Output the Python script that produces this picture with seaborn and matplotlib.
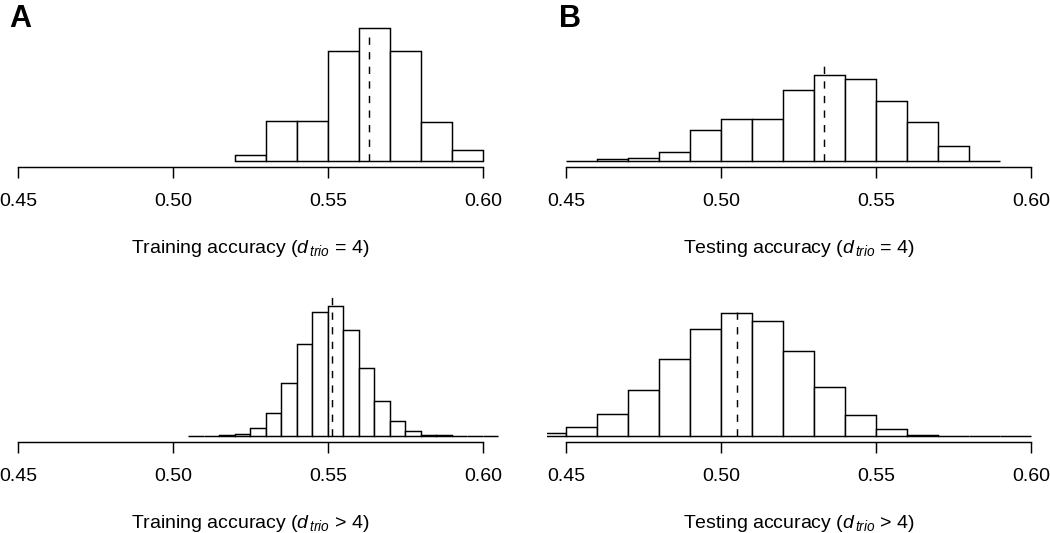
import numpy as np
import pandas as pd
import seaborn as sns
import matplotlib.pyplot as plt

# histogram bar heights (arbitrary frequency units)
train4_start, train4_width = 0.52, 0.01
train4_freq = [6, 40, 40, 110, 133, 110, 39, 11]
train4_mean, train4_mean_top = 0.5632, 131

test4_start, test4_width = 0.45, 0.01
test4_freq = [0.6, 2.3, 3.3, 9.7, 31, 42, 42, 71, 86, 82, 60, 39, 15, 0.7]
test4_mean, test4_mean_top = 0.5331, 98

traingt4_start, traingt4_width = 0.505, 0.005
traingt4_freq = [0, 0.3, 1, 2, 8, 23, 53, 92, 124, 130, 106, 68, 35, 15, 5,
                 1.3, 0.7, 0, 0, 0]
traingt4_mean, traingt4_mean_top = 0.5514, 142

testgt4_start, testgt4_width = 0.44, 0.01
testgt4_freq = [2.5, 9.2, 22.3, 46, 77, 107, 123, 115, 85, 49, 21, 7, 1.3,
                0.3, 0, 0]
testgt4_mean, testgt4_mean_top = 0.5053, 128

tick_vals = [0.45, 0.50, 0.55, 0.60]
tick_labels = ["0.45", "0.50", "0.55", "0.60"]

sns.set_style("white")
plt.rcParams['font.family'] = ['Liberation Sans', 'DejaVu Sans']
plt.rcParams['mathtext.fontset'] = 'custom'
plt.rcParams['mathtext.rm'] = 'Liberation Sans'
plt.rcParams['mathtext.it'] = 'Liberation Sans:italic'
plt.rcParams['text.color'] = 'black'
plt.rcParams['axes.labelcolor'] = 'black'
plt.rcParams['xtick.color'] = 'black'

fig = plt.figure(figsize=(10.5, 5.33), dpi=100)


def draw_panel(rect, start, width, freq, mean, mean_top, label, base):
    ax = fig.add_axes(rect)
    n = len(freq)
    centers = start + width * (np.arange(n) + 0.5)
    df = pd.DataFrame({"acc": centers, "freq": freq})
    sns.histplot(data=df, x="acc", weights="freq", binwidth=width,
                 binrange=(start, start + width * n), ax=ax,
                 color="white", edgecolor="black", linewidth=1.05, alpha=1)
    ax.vlines(mean, 0, mean_top, colors="black",
              linestyles=(0, (5, 5)), linewidth=1.05)
    ax.set_xlim(0.444, 0.606)
    ax.set_ylim(-base, 146 - base)
    for s in ["left", "right", "top"]:
        ax.spines[s].set_visible(False)
    ax.spines["bottom"].set_bounds(0.45, 0.60)
    ax.spines["bottom"].set_linewidth(1.05)
    ax.spines["bottom"].set_color("black")
    ax.set_yticks([])
    ax.set_ylabel("")
    ax.set_xticks(tick_vals)
    ax.set_xticklabels(tick_labels)
    ax.tick_params(axis="x", direction="out", length=8, width=1.05,
                   pad=11, labelsize=14, colors="black", bottom=True)
    ax.set_xlabel(label, fontsize=14, labelpad=20)
    return ax


w = 0.4783
h = 0.2739
draw_panel([-0.0006, 0.6872, w, h], train4_start, train4_width, train4_freq,
           train4_mean, train4_mean_top,
           "Training accuracy ($d_{\\,trio}$ = 4)", 5.4)
draw_panel([0.5213, 0.6872, w, h], test4_start, test4_width, test4_freq,
           test4_mean, test4_mean_top,
           "Testing accuracy ($d_{\\,trio}$ = 4)", 5.4)
draw_panel([-0.0006, 0.1713, w, h], traingt4_start, traingt4_width,
           traingt4_freq, traingt4_mean, traingt4_mean_top,
           "Training accuracy ($d_{\\,trio}$ > 4)", 5.8)
draw_panel([0.5213, 0.1713, w, h], testgt4_start, testgt4_width,
           testgt4_freq, testgt4_mean, testgt4_mean_top,
           "Testing accuracy ($d_{\\,trio}$ > 4)", 5.8)

fig.text(0.0086, 1 - 27 / 533, "A", fontsize=22, fontweight="bold",
         va="baseline", ha="left", color="black")
fig.text(0.532, 1 - 27 / 533, "B", fontsize=22, fontweight="bold",
         va="baseline", ha="left", color="black")

fig.savefig("out.png", dpi=100)
